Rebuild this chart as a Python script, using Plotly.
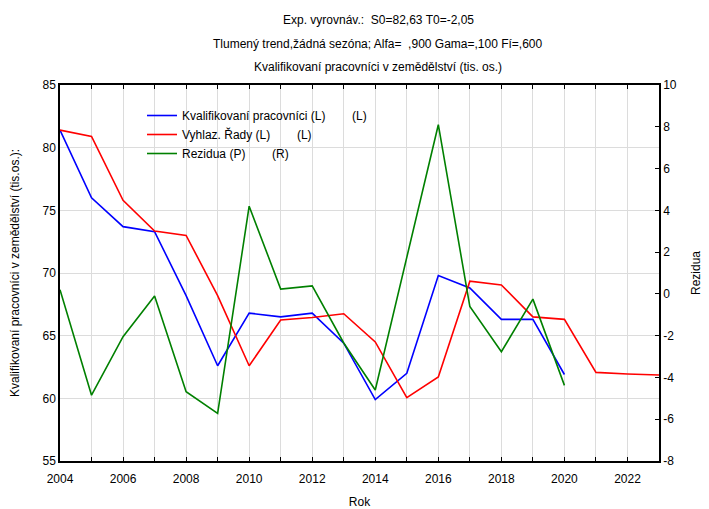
import plotly.graph_objects as go

years = list(range(2004, 2024))
obs_years = list(range(2004, 2021))

kvalifikovani = [81.4, 76.0, 73.7, 73.3, 68.2, 62.6, 66.8, 66.5, 66.8, 64.4,
                 59.9, 62.0, 69.8, 68.8, 66.3, 66.3, 61.9]
vyhlazene = [81.4, 80.9, 75.8, 73.35, 73.0, 68.2, 62.6, 66.25, 66.45, 66.75,
             64.5, 60.05, 61.7, 69.35, 69.05, 66.5, 66.3, 62.07, 61.94, 61.86]
rezidua = [0.2, -4.85, -2.05, -0.1, -4.68, -5.72, 4.2, 0.23, 0.38, -2.35,
           -4.6, 1.8, 8.1, -0.6, -2.77, -0.25, -4.38]

x_tickvals = years
x_ticktext = [str(y) if y % 2 == 0 else "" for y in years]
y2_tickvals = list(range(-8, 11, 2))
y2_ticktext = [str(v) for v in y2_tickvals]

title_lines = [
    "Exp. vyrovnáv.:  S0=82,63 T0=-2,05",
    "Tlumený trend,žádná sezóna; Alfa=  ,900 Gama=,100 Fí=,600",
    "Kvalifikovaní pracovníci v zemědělství (tis. os.)",
]

GAP = "\u00a0" * 8
names = [
    "Kvalifikovaní pracovníci (L)" + GAP + "(L)",
    "Vyhlaz. Řady (L)" + GAP + "(L)",
    "Rezidua (P)" + GAP + "(R)",
]

FONT = "Arial, Liberation Sans, sans-serif"

fig = go.Figure()
fig.add_trace(go.Scatter(x=obs_years, y=kvalifikovani, mode="lines", name=names[0],
                         line=dict(color="#0000ff", width=1.6)))
fig.add_trace(go.Scatter(x=years, y=vyhlazene, mode="lines", name=names[1],
                         line=dict(color="#ff0000", width=1.6)))
fig.add_trace(go.Scatter(x=obs_years, y=rezidua, mode="lines", name=names[2], yaxis="y2",
                         line=dict(color="#008000", width=1.6)))

H = 376.0
W = 599.0
annotations = []
for txt, ypx in zip(title_lines, [20, 44, 67]):
    annotations.append(dict(text=txt, x=(378 - 60) / W, y=1 + (85 - ypx) / H,
                            xref="paper", yref="paper", xanchor="center",
                            yanchor="middle", showarrow=False,
                            font=dict(size=12, color="black", family=FONT)))

fig.update_layout(
    width=701, height=501,
    margin=dict(l=52, r=50, t=77, b=48, autoexpand=False),
    paper_bgcolor="white", plot_bgcolor="white",
    font=dict(family=FONT, size=12, color="black"),
    showlegend=True,
    legend=dict(x=(154 - 60) / W - 0.02, y=1 - (101 - 85) / H, xanchor="left", yanchor="top",
                bgcolor="rgba(0,0,0,0)", font=dict(size=12, family=FONT),
                tracegroupgap=0, itemwidth=30),
    annotations=annotations,
    xaxis=dict(range=[2004, 2023], tickvals=x_tickvals, ticktext=x_ticktext,
               ticks="inside", ticklen=4, tickcolor="black", ticklabelstandoff=6,
               showline=True, linecolor="black", linewidth=1.5, mirror="ticks",
               showgrid=True, gridcolor="#dcdcdc", gridwidth=1, zeroline=False,
               automargin=False,
               title=dict(text="Rok", standoff=20, font=dict(size=12))),
    yaxis=dict(range=[55, 85], dtick=5, ticks="", showline=True,
               linecolor="black", linewidth=1.5, automargin=False,
               showgrid=True, gridcolor="#dcdcdc", gridwidth=1, zeroline=False,
               title=dict(text="Kvalifikovaní pracovníci v zemědělství (tis.os.):",
                          standoff=20, font=dict(size=12))),
    yaxis2=dict(range=[-8, 10], tickvals=y2_tickvals, ticktext=y2_ticktext,
                overlaying="y", side="right",
                ticks="inside", ticklen=4, tickcolor="black", automargin=False,
                showline=True, linecolor="black", linewidth=1.5,
                showgrid=False, zeroline=False,
                title=dict(text="Rezidua", standoff=16, font=dict(size=12))),
)

fig.write_html("out.html")
